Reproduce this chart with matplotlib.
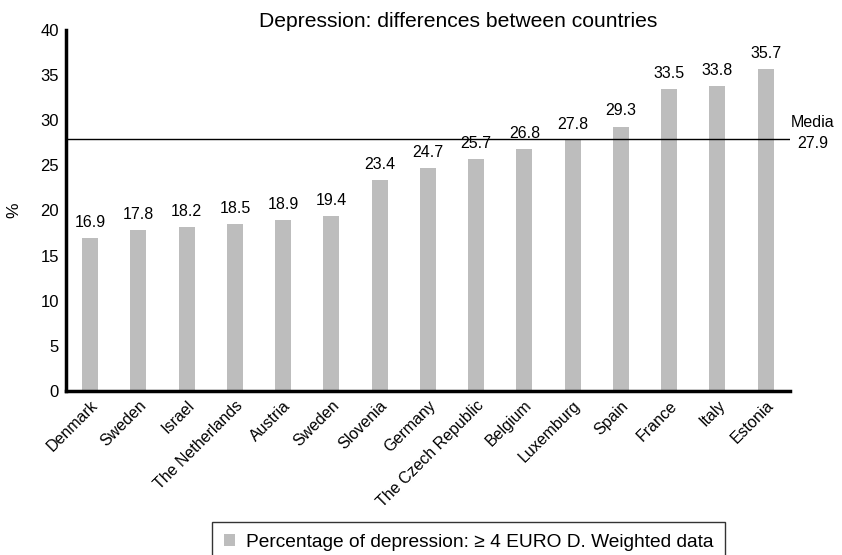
import numpy as np
import matplotlib.pyplot as plt

plt.rcParams['font.family'] = ['Liberation Sans', 'DejaVu Sans']

# Daten
countries = ['Denmark', 'Sweden', 'Israel', 'The Netherlands', 'Austria', 'Sweden',
             'Slovenia', 'Germany', 'The Czech Republic', 'Belgium', 'Luxemburg',
             'Spain', 'France', 'Italy', 'Estonia']
values = [16.9, 17.8, 18.2, 18.5, 18.9, 19.4, 23.4, 24.7, 25.7, 26.8, 27.8,
          29.3, 33.5, 33.8, 35.7]
media = 27.9

fig = plt.figure(figsize=(8.42, 5.55), dpi=100)
ax = fig.add_axes([0.0784, 0.2955, 0.8596, 0.6505])

x = np.arange(len(countries))
bars = ax.bar(x, values, width=0.33, color='#bdbdbd',
              label='Percentage of depression: \u2265 4 EURO D. Weighted data')
for xi, v in zip(x, values):
    ax.text(xi, v + 0.9, f'{v:.1f}', ha='center', va='bottom', fontsize=11.5)

ax.axhline(media, color='black', linewidth=1)
ax.text(14.98, media + 0.7, f'Media\n{media:.1f}', ha='center', va='center',
        fontsize=11.5, linespacing=1.45, clip_on=False)

ax.set_xlim(-0.5, 14.5)
ax.set_ylim(0, 40)
ax.set_yticks(np.arange(0, 41, 5))
ax.set_xticks(x)
ax.set_xticklabels(countries, rotation=45, ha='right', rotation_mode='anchor', fontsize=11.5)
ax.tick_params(axis='both', length=0)
ax.tick_params(axis='y', labelsize=12, pad=5)
ax.tick_params(axis='x', pad=5)
for s in ['top', 'right']:
    ax.spines[s].set_visible(False)
for s in ['left', 'bottom']:
    ax.spines[s].set_linewidth(2.5)

ax.set_ylabel('%', fontsize=12.5, labelpad=14)
fig.text(0.544, 0.962, 'Depression: differences between countries', ha='center',
         va='center', fontsize=15.2)

leg = fig.legend(handles=[bars], loc='upper left', bbox_to_anchor=(0.2518, 0.0595),
                 borderaxespad=0, frameon=True, fancybox=False, edgecolor='black',
                 fontsize=13.8, handlelength=0.6, handleheight=0.6, handletextpad=0.55,
                 borderpad=0.62)
leg.get_frame().set_linewidth(1)

plt.savefig('out.png', dpi=100)
